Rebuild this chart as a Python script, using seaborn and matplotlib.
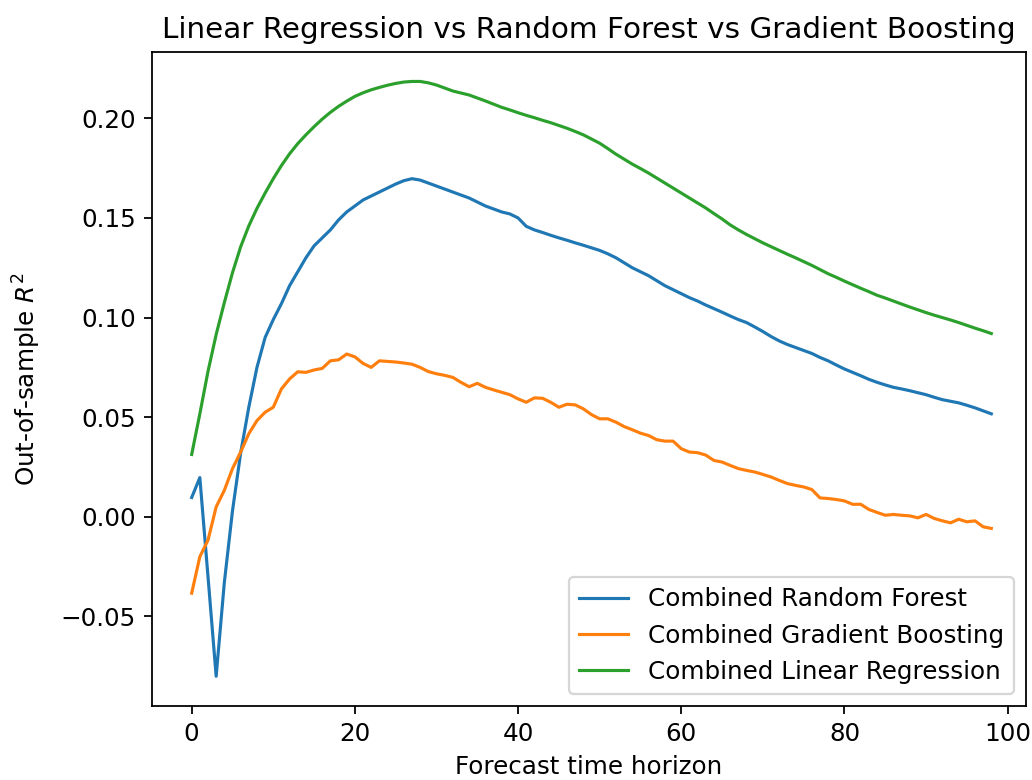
import numpy as np
import pandas as pd
import matplotlib
matplotlib.use("Agg")
import matplotlib.pyplot as plt
import seaborn as sns

horizon = list(range(0, 99))

random_forest = [
    0.0097, 0.0197, -0.030, -0.080, -0.033, 0.003, 0.032, 0.055, 0.075, 0.090,
    0.099, 0.107, 0.116, 0.123, 0.130, 0.136, 0.140, 0.144, 0.149, 0.153,
    0.156, 0.159, 0.161, 0.163, 0.165, 0.167, 0.1687, 0.1697, 0.169, 0.1675,
    0.166, 0.1645, 0.163, 0.1615, 0.160, 0.158, 0.156, 0.1545, 0.153, 0.152,
    0.150, 0.1458, 0.144, 0.1427, 0.1413, 0.140, 0.1388, 0.1375, 0.1363, 0.135,
    0.1337, 0.132, 0.130, 0.1275, 0.125, 0.123, 0.121, 0.1185, 0.116, 0.114,
    0.112, 0.110, 0.1083, 0.1063, 0.1045, 0.1027, 0.1008, 0.099, 0.0975, 0.0953,
    0.093, 0.0905, 0.0883, 0.0865, 0.085, 0.0835, 0.082, 0.080, 0.0783, 0.0762,
    0.0742, 0.0725, 0.0708, 0.069, 0.0675, 0.0662, 0.065, 0.0642, 0.0633, 0.0623,
    0.0613, 0.060, 0.0588, 0.058, 0.0572, 0.056, 0.0547, 0.0532, 0.0517,
]

gradient_boosting = [
    -0.0383, -0.020, -0.0117, 0.005, 0.0133, 0.0242, 0.0325, 0.0417, 0.0483, 0.0525,
    0.055, 0.0642, 0.0692, 0.0728, 0.0725, 0.0737, 0.0745, 0.0783, 0.0788, 0.0817,
    0.0803, 0.077, 0.075, 0.0783, 0.078, 0.0777, 0.0772, 0.0766, 0.075, 0.0729,
    0.0718, 0.071, 0.070, 0.0675, 0.0653, 0.067, 0.065, 0.0637, 0.0625, 0.0613,
    0.0592, 0.0575, 0.0597, 0.0595, 0.0575, 0.055, 0.0565, 0.0562, 0.0542, 0.0513,
    0.0492, 0.0492, 0.0475, 0.0453, 0.0437, 0.042, 0.0408, 0.0387, 0.038, 0.038,
    0.0342, 0.0325, 0.0322, 0.031, 0.0283, 0.0275, 0.0258, 0.0242, 0.0233, 0.0225,
    0.0213, 0.020, 0.0183, 0.0167, 0.0158, 0.015, 0.0137, 0.0095, 0.0092, 0.0087,
    0.008, 0.0063, 0.0063, 0.0037, 0.0022, 0.0008, 0.0012, 0.0008, 0.0005, -0.0005,
    0.0012, -0.0008, -0.002, -0.003, -0.0012, -0.0025, -0.002, -0.005, -0.0058,
]

linear_regression = [
    0.0313, 0.0517, 0.073, 0.0915, 0.1075, 0.1225, 0.1355, 0.146, 0.1548, 0.1625,
    0.1697, 0.1763, 0.1822, 0.1873, 0.1917, 0.1958, 0.1996, 0.2030, 0.2060, 0.2086,
    0.2110, 0.2128, 0.2143, 0.2155, 0.2166, 0.2175, 0.2182, 0.2185, 0.2185, 0.2178,
    0.2167, 0.2152, 0.2137, 0.2127, 0.2117, 0.2102, 0.2087, 0.2071, 0.2055, 0.2042,
    0.2028, 0.2015, 0.2003, 0.199, 0.1978, 0.1964, 0.195, 0.1934, 0.1917, 0.1896,
    0.1875, 0.1848, 0.182, 0.1795, 0.177, 0.1748, 0.1725, 0.170, 0.1675, 0.165,
    0.1625, 0.160, 0.1575, 0.155, 0.1522, 0.1495, 0.1465, 0.1440, 0.1417, 0.1396,
    0.1375, 0.1356, 0.1337, 0.1318, 0.130, 0.1281, 0.1262, 0.1241, 0.122, 0.1202,
    0.1183, 0.1165, 0.1147, 0.113, 0.1112, 0.1098, 0.1083, 0.1068, 0.1053, 0.1039,
    0.1025, 0.1012, 0.100, 0.0988, 0.0975, 0.0961, 0.0947, 0.0934, 0.092,
]

series_names = ["Combined Random Forest", "Combined Gradient Boosting", "Combined Linear Regression"]
colors = ["#1f77b4", "#ff7f0e", "#2ca02c"]

plt.rcParams["font.size"] = 11
plt.rcParams["axes.titlesize"] = 13.2

DPI = 161.25
fig = plt.figure(figsize=(1032 / DPI, 780 / DPI), dpi=DPI)
ax = fig.add_axes([151.7 / 1032, (780 - 706) / 780, (1026 - 151.7) / 1032, (706 - 51.7) / 780])

for name, vals, col in zip(series_names, [random_forest, gradient_boosting, linear_regression], colors):
    df = pd.DataFrame({"h": horizon, "r2": vals})
    sns.lineplot(data=df, x="h", y="r2", ax=ax, color=col, label=name, linewidth=1.4)

ax.set_xlim(-4.9, 102.25)
ax.set_title("Linear Regression vs Random Forest vs Gradient Boosting")
ax.set_xlabel("Forecast time horizon")
ax.set_ylabel("Out-of-sample $R^2$", labelpad=8)
ax.legend(loc="lower right")

fig.savefig("out.png", dpi=DPI)
